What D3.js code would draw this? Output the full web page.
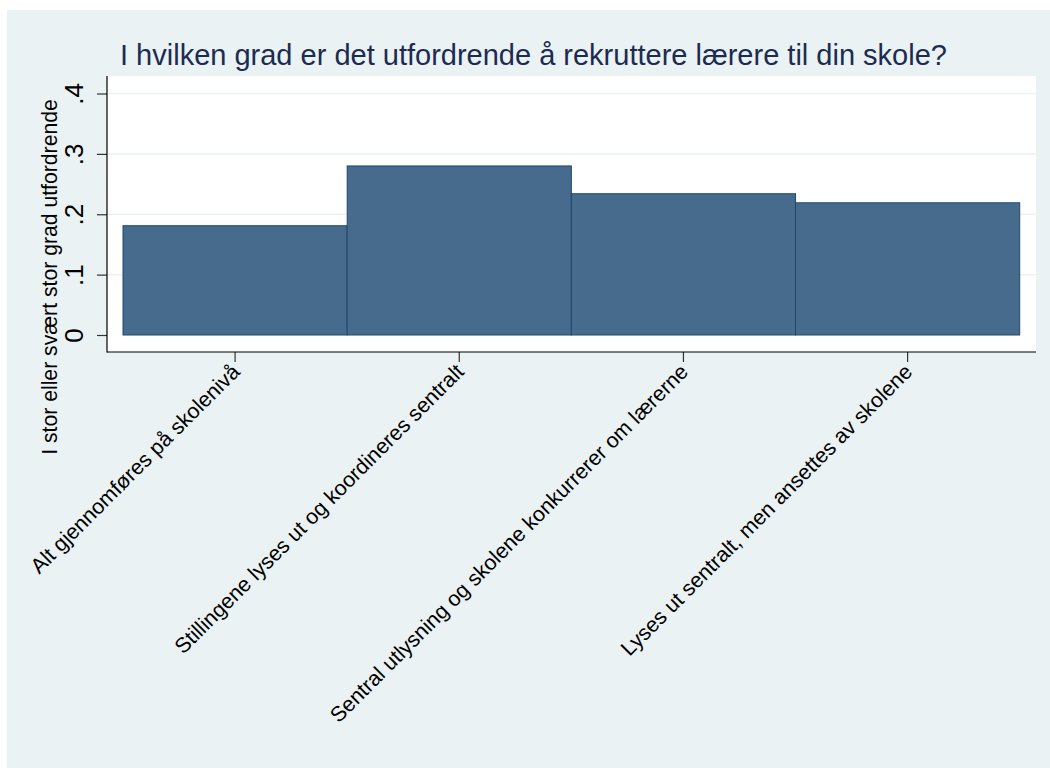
<!DOCTYPE html>
<html>
<head>
<meta charset="utf-8">
<script src="https://cdn.jsdelivr.net/npm/d3@7"></script>
<style>
  html, body { margin: 0; padding: 0; background: #ffffff; }
  svg { display: block; }
  text { font-family: "Liberation Sans", Arial, sans-serif; }
</style>
</head>
<body>
<svg id="chart" width="1050" height="768"></svg>
<script>
// ---- data ----
const categories = [
  "Alt gjennomføres på skolenivå",
  "Stillingene lyses ut og koordineres sentralt",
  "Sentral utlysning og skolene konkurrerer om lærerne",
  "Lyses ut sentralt, men ansettes av skolene"
];
const values = [0.181, 0.280, 0.234, 0.219];
const yTicks = [0, 0.1, 0.2, 0.3, 0.4];
const yTickLabels = ["0", ".1", ".2", ".3", ".4"];
const titleText = "I hvilken grad er det utfordrende å rekruttere lærere til din skole?";
const yTitleText = "I stor eller svært stor grad utfordrende";

// ---- layout ----
const W = 1050, H = 768;
const plot = { left: 107, right: 1036, top: 76, bottom: 352 };

const svg = d3.select("#chart");

// outer background
svg.append("rect")
  .attr("x", 7).attr("y", 10)
  .attr("width", W - 7).attr("height", H - 10)
  .attr("fill", "#EAF2F3");

// plot region
svg.append("rect")
  .attr("x", plot.left).attr("y", plot.top)
  .attr("width", plot.right - plot.left).attr("height", plot.bottom - plot.top)
  .attr("fill", "#ffffff");

// scales
const y = d3.scaleLinear().domain([0, 0.4]).range([335, 93.5]);
const x = d3.scaleBand().domain(categories)
  .range([123, 1019.7]).paddingInner(0).paddingOuter(0);

// gridlines
svg.append("g").selectAll("line")
  .data(yTicks.filter(d => d > 0))
  .join("line")
  .attr("x1", plot.left + 1).attr("x2", plot.right)
  .attr("y1", d => y(d)).attr("y2", d => y(d))
  .attr("stroke", "#EAF2F3").attr("stroke-width", 1.5);

// bars
svg.append("g").selectAll("rect")
  .data(values)
  .join("rect")
  .attr("x", (d, i) => x(categories[i]))
  .attr("y", d => y(d))
  .attr("width", x.bandwidth())
  .attr("height", d => y(0) - y(d))
  .attr("fill", "#476B8C")
  .attr("stroke", "#1F4870")
  .attr("stroke-width", 1);

// y axis
const yAxis = d3.axisLeft(y).tickValues(yTicks)
  .tickFormat((d, i) => yTickLabels[i]).tickSize(10).tickPadding(0);
const gy = svg.append("g").attr("transform", `translate(${plot.left},0)`).call(yAxis);
gy.select(".domain").remove();
gy.append("line").attr("x1", 0).attr("x2", 0)
  .attr("y1", plot.top).attr("y2", plot.bottom + 0.5)
  .attr("stroke", "#000").attr("stroke-width", 1.2);
gy.selectAll(".tick line").attr("stroke", "#333").attr("stroke-width", 1.2);
gy.selectAll(".tick text")
  .attr("x", null).attr("dy", null)
  .attr("transform", "translate(-24,0) rotate(-90)")
  .attr("text-anchor", "middle")
  .attr("font-size", 26)
  .attr("fill", "#000");

// x axis
const xAxis = d3.axisBottom(x).tickSize(10).tickPadding(0);
const gx = svg.append("g").attr("transform", `translate(0,${plot.bottom})`).call(xAxis);
gx.select(".domain").remove();
gx.append("line").attr("x1", plot.left).attr("x2", plot.right)
  .attr("y1", 0).attr("y2", 0)
  .attr("stroke", "#000").attr("stroke-width", 1.2);
gx.selectAll(".tick line").attr("stroke", "#333").attr("stroke-width", 1.2);
gx.selectAll(".tick text")
  .attr("y", null).attr("dy", null)
  .attr("transform", "translate(6,21) rotate(-45)")
  .attr("text-anchor", "end")
  .attr("font-size", 21.3)
  .attr("fill", "#000");

// y axis title
svg.append("text")
  .attr("transform", "translate(57,277) rotate(-90)")
  .attr("text-anchor", "middle")
  .attr("font-size", 21.2)
  .attr("fill", "#000")
  .text(yTitleText);

// title
svg.append("text")
  .attr("x", 120).attr("y", 65)
  .attr("font-size", 29)
  .attr("fill", "#1C2B52")
  .text(titleText);
</script>
</body>
</html>
